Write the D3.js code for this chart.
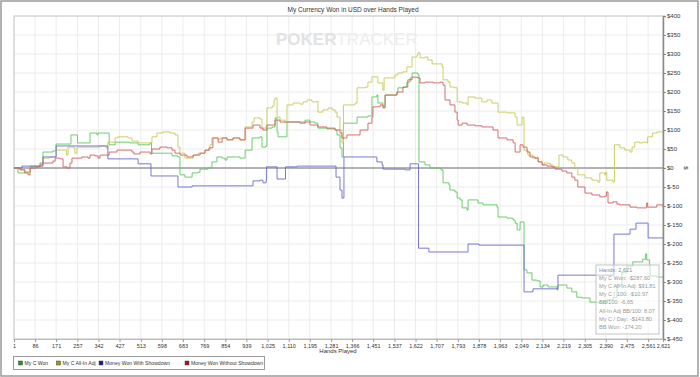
<!DOCTYPE html>
<html>
<head>
<meta charset="utf-8">
<script src="https://cdn.jsdelivr.net/npm/d3@7"></script>
<style>
  body { margin: 0; background: #fff; }
  svg text { font-family: "Liberation Sans", Arial, sans-serif; }
</style>
</head>
<body>
<svg width="700" height="377"></svg>
<script>
var svg = d3.select("svg");

// hands / dollars
var handTicks = [1, 86, 171, 257, 342, 427, 513, 598, 683, 769, 854, 939, 1025, 1110, 1195, 1281,
                 1366, 1451, 1537, 1622, 1707, 1793, 1878, 1963, 2049, 2134, 2219, 2305, 2390, 2475, 2561, 2621];
var dollarTicks = [-450, -400, -350, -300, -250, -200, -150, -100, -50, 0, 50, 100, 150, 200, 250, 300, 350, 400];

var myCWon = [[1,0],[17,-13],[45,-11],[66,5],[106,13],[118,42],[158,45],[171,63],[227,63],[231,87],[255,87],
  [257,66],[308,92],[336,87],[340,92],[380,92],[385,61],[409,68],[469,66],[502,61],[550,66],[556,39],[639,32],
  [663,29],[671,-18],[691,-24],[720,-13],[744,-11],[752,-3],[784,0],[800,16],[820,29],[841,26],[853,21],[861,29],
  [885,29],[913,26],[934,47],[962,79],[994,82],[1002,55],[1018,58],[1022,105],[1043,108],[1055,132],[1063,95],
  [1067,82],[1095,82],[1103,121],[1176,126],[1196,121],[1216,118],[1228,105],[1264,103],[1297,100],[1305,87],
  [1317,53],[1325,29],[1331,118],[1378,118],[1386,134],[1430,137],[1446,187],[1466,192],[1470,171],[1490,161],
  [1499,192],[1547,200],[1551,211],[1575,213],[1587,226],[1600,237],[1608,250],[1632,245],[1636,16],[1660,8],
  [1680,0],[1725,-5],[1733,-39],[1757,-45],[1761,-58],[1781,-63],[1790,-79],[1802,-84],[1810,-105],[1830,-111],
  [1834,-84],[1874,-92],[1894,-97],[1923,-97],[1951,-103],[1955,-129],[1991,-132],[2016,-137],[2024,-145],
  [2032,-163],[2044,-142],[2056,-142],[2060,-268],[2072,-276],[2092,-295],[2113,-297],[2125,-313],[2137,-308],
  [2157,-313],[2193,-321],[2197,-308],[2217,-308],[2233,-316],[2253,-326],[2273,-340],[2293,-342],[2326,-353],
  [2358,-355],[2394,-347],[2419,-340],[2435,-308],[2455,-274],[2475,-258],[2499,-247],[2519,-247],[2539,-240],
  [2551,-226],[2555,-242],[2567,-255],[2569,-284],[2596,-287],[2621,-287.6]];

var myCAllIn = [[1,0],[25,-5],[45,-11],[66,3],[106,13],[118,26],[146,29],[171,47],[207,47],[213,34],[219,55],
  [243,53],[247,39],[255,55],[316,55],[348,58],[372,53],[380,68],[409,79],[421,82],[461,79],[477,71],[502,66],
  [538,66],[558,82],[578,92],[602,95],[631,92],[651,87],[663,55],[671,39],[691,26],[724,34],[744,39],[772,47],
  [792,61],[800,79],[825,74],[833,79],[861,74],[885,79],[913,74],[934,108],[962,121],[970,132],[994,129],
  [1002,105],[1018,108],[1022,158],[1043,163],[1051,179],[1055,184],[1063,134],[1075,126],[1095,121],[1103,166],
  [1128,171],[1156,168],[1168,174],[1184,179],[1204,174],[1224,176],[1228,147],[1248,153],[1269,158],[1285,153],
  [1297,147],[1305,134],[1317,100],[1325,66],[1331,166],[1378,171],[1386,211],[1418,213],[1430,226],[1446,240],
  [1466,240],[1470,224],[1490,205],[1495,237],[1539,245],[1551,250],[1571,253],[1587,266],[1608,292],[1628,297],
  [1632,303],[1640,290],[1660,292],[1672,284],[1689,274],[1729,266],[1733,232],[1753,226],[1761,213],[1781,211],
  [1790,174],[1810,171],[1830,166],[1834,187],[1862,184],[1890,174],[1910,179],[1930,171],[1951,171],[1955,147],
  [1991,145],[2024,134],[2032,113],[2044,113],[2052,134],[2058,132],[2060,47],[2076,34],[2096,26],[2113,29],
  [2117,16],[2133,8],[2141,13],[2165,8],[2177,3],[2197,3],[2201,34],[2217,29],[2237,21],[2253,13],[2265,0],
  [2277,-18],[2306,-26],[2334,-32],[2358,-37],[2366,-13],[2386,-18],[2390,-11],[2394,-32],[2419,-37],[2425,61],
  [2447,53],[2467,47],[2488,42],[2496,55],[2507,68],[2527,66],[2539,68],[2555,66],[2559,82],[2579,92],[2596,95],
  [2621,91.81]];

var withShowdown = [[1,0],[33,5],[118,29],[171,58],[380,24],[502,11],[554,-21],[663,-50],[720,-47],[966,-34],
  [994,-32],[1006,-39],[1018,-34],[1020,3],[1059,3],[1063,-29],[1095,-29],[1097,3],[1144,5],[1297,5],[1301,-24],
  [1317,-58],[1325,-79],[1333,29],[1458,29],[1466,16],[1487,8],[1491,-3],[1572,-3],[1580,-5],[1600,11],
  [1632,11],[1634,-211],[1676,-221],[1834,-200],[1878,-203],[2056,-203],[2060,-326],[2096,-318],[2197,-282],
  [2423,-174],[2488,-161],[2512,-145],[2561,-184],[2621,-184]];

var withoutShowdown = [[1,0],[25,-5],[45,-13],[58,-18],[66,0],[94,3],[106,8],[118,13],[158,18],[167,26],[187,24],
  [199,3],[215,0],[227,13],[235,26],[271,26],[275,29],[300,26],[308,34],[328,32],[340,26],[348,34],[380,34],
  [385,42],[413,42],[417,47],[477,42],[485,37],[510,42],[550,37],[558,50],[590,55],[619,53],[639,47],[651,39],
  [671,34],[699,29],[724,34],[752,39],[772,47],[788,53],[804,79],[825,68],[841,79],[861,74],[885,79],[913,74],
  [934,105],[966,113],[994,105],[1006,100],[1022,113],[1055,126],[1075,121],[1103,121],[1156,118],[1176,121],
  [1196,113],[1228,108],[1264,105],[1297,100],[1317,92],[1325,79],[1345,87],[1386,87],[1398,100],[1430,118],
  [1446,134],[1450,161],[1479,166],[1491,158],[1499,192],[1547,200],[1571,213],[1591,232],[1608,239],[1632,237],
  [1640,224],[1660,226],[1693,224],[1721,226],[1733,218],[1741,179],[1761,166],[1781,147],[1790,126],[1794,113],
  [1810,118],[1830,113],[1862,111],[1890,108],[1923,108],[1935,100],[1955,79],[1991,74],[2016,66],[2024,42],
  [2040,42],[2044,61],[2056,55],[2072,42],[2084,29],[2104,26],[2117,16],[2133,8],[2153,5],[2173,3],[2185,-3],
  [2213,-8],[2233,-13],[2253,-24],[2265,-32],[2277,-50],[2306,-66],[2334,-71],[2366,-76],[2386,-74],[2393,-63],
  [2399,-92],[2419,-89],[2435,-95],[2447,-97],[2488,-103],[2515,-105],[2551,-105],[2555,-92],[2559,-103],
  [2596,-97],[2621,-103.4]];

var seriesNames = ["My C Won", "My C All-In Adj", "Money Won With Showdown", "Money Won Without Showdown"];
var lineColors = ["#5ec85e", "#c9c95a", "#6a6ad0", "#d06060"];
var legendColors = ["#1e9a1e", "#9a9a10", "#1a1aa0", "#a01a1a"];

var tipLines = ["Hands: 2,621", "My C Won: -$287.60", "My C All-In Adj: $91.81", "My C / 100: -$10.97",
  "BB/100: -6.65", "All-In Adj BB/100: 8.07", "My C / Day: -$143.80", "BB Won: -174.20"];

var plotL = 14, plotR = 663, plotT = 16, plotB = 339;

var x = d3.scaleLinear().domain([1, 2621]).range([plotL, plotR]);
var y = d3.scaleLinear().domain([-450, 400]).range([plotB, plotT]);

// outer frame
svg.append("rect").attr("x", 1).attr("y", 1).attr("width", 697).attr("height", 375)
   .attr("fill", "#fff").attr("stroke", "#9a9a9a").attr("stroke-width", 1.5);

// title
svg.append("text").attr("x", 353).attr("y", 12).attr("text-anchor", "middle")
   .style("font-size", "6.5px").attr("fill", "#333").text("My Currency Won in USD over Hands Played");

// grid
var grid = svg.append("g");
grid.selectAll(".vg").data(handTicks).enter().append("line")
    .attr("x1", d => x(d)).attr("x2", d => x(d)).attr("y1", plotT).attr("y2", plotB)
    .attr("stroke", "#ececec").attr("stroke-width", 1);
grid.selectAll(".hg").data(dollarTicks).enter().append("line")
    .attr("x1", plotL).attr("x2", plotR).attr("y1", d => y(d)).attr("y2", d => y(d))
    .attr("stroke", "#ececec").attr("stroke-width", 1);

// watermark
var wm = svg.append("text").attr("x", 276).attr("y", 45).style("font-size", "17px");
wm.append("tspan").attr("fill", "#e2e2e2").style("font-weight", "bold").text("POKER");
wm.append("tspan").attr("fill", "#ededed").text("TRACKER");

// plot frame
svg.append("rect").attr("x", plotL).attr("y", plotT).attr("width", plotR - plotL).attr("height", plotB - plotT)
   .attr("fill", "none").attr("stroke", "#c8c8c8").attr("stroke-width", 1);

// zero line
svg.append("line").attr("x1", plotL).attr("x2", plotR).attr("y1", y(0)).attr("y2", y(0))
   .attr("stroke", "#707070").attr("stroke-width", 1);

// series
var line = d3.line().x(d => x(d[0])).y(d => y(d[1])).curve(d3.curveStepAfter);
[myCWon, myCAllIn, withShowdown, withoutShowdown].forEach(function(s, i) {
    svg.append("path").datum(s).attr("d", line).attr("fill", "none")
       .attr("stroke", lineColors[i]).attr("stroke-width", 1).attr("stroke-opacity", 0.9);
});

// right axis
var yAxis = svg.append("g").attr("transform", "translate(" + plotR + ",0)")
    .call(d3.axisRight(y).tickValues(dollarTicks).tickSize(3).tickFormat(d => "$" + d));
yAxis.select(".domain").attr("stroke", "#8a8a8a").attr("stroke-width", 1.5);
yAxis.selectAll(".tick line").attr("stroke", "#8a8a8a");
yAxis.selectAll("text").style("font-size", "6px").attr("fill", "#333").attr("x", 4);

svg.append("text").attr("transform", "translate(684," + y(0) + ") rotate(90)")
   .attr("text-anchor", "middle").style("font-size", "6px").attr("fill", "#333").text("$");

// bottom axis
var xAxis = svg.append("g").attr("transform", "translate(0," + plotB + ")")
    .call(d3.axisBottom(x).tickValues(handTicks).tickSize(3).tickFormat(d3.format(",")));
xAxis.select(".domain").attr("stroke", "#bdbdbd");
xAxis.selectAll(".tick line").attr("stroke", "#9a9a9a");
xAxis.selectAll("text").style("font-size", "5.5px").attr("fill", "#333").attr("y", 5);

svg.append("text").attr("x", 338).attr("y", 353).attr("text-anchor", "middle")
   .style("font-size", "6px").attr("fill", "#333").text("Hands Played");

// tooltip box
svg.append("rect").attr("x", 596).attr("y", 265).attr("width", 63).attr("height", 69)
   .attr("fill", "#fff").attr("fill-opacity", 0.55).attr("stroke", "#c4c4c4").attr("stroke-width", 1);
svg.selectAll(".tip").data(tipLines).enter().append("text")
   .attr("x", 599).attr("y", (d, i) => 272 + i * 8.1)
   .style("font-size", "5.6px").attr("fill", (d, i) => i == 0 ? "#8a8ab0" : "#9a9a9a").text(d => d);

// legend
svg.append("rect").attr("x", 13.5).attr("y", 356.5).attr("width", 251).attr("height", 13)
   .attr("fill", "#fff").attr("stroke", "#9a9a9a").attr("stroke-width", 1);
var legendX = [18.5, 56.5, 99, 185];
seriesNames.forEach(function(name, i) {
    svg.append("rect").attr("x", legendX[i]).attr("y", 361).attr("width", 4).attr("height", 4)
       .attr("fill", legendColors[i]).attr("stroke", "#444").attr("stroke-width", 0.5);
    svg.append("text").attr("x", legendX[i] + 6).attr("y", 365.2)
       .style("font-size", "5.1px").attr("fill", "#333").text(name);
});
</script>
</body>
</html>
